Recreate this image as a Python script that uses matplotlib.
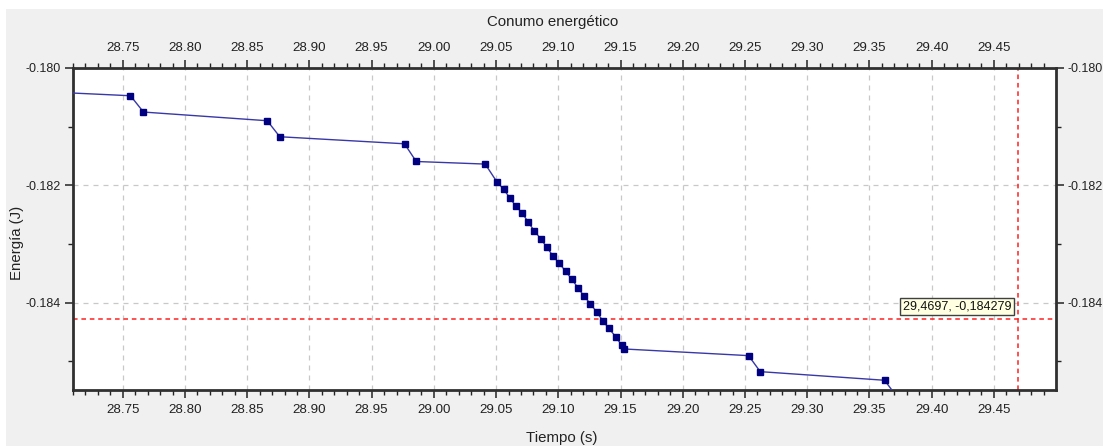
import matplotlib
matplotlib.use("Agg")
import matplotlib.pyplot as plt
from matplotlib.patches import Rectangle
from matplotlib.ticker import MultipleLocator, FormatStrFormatter

plt.rcParams['font.family'] = ['Liberation Sans', 'DejaVu Sans']

# Data (time in s, energy in J)
tiempo = [28.6565, 28.75619, 28.76664, 28.86605, 28.87618, 28.97639, 28.98580, 29.04125,
          29.05057, 29.05596, 29.06078, 29.06584, 29.07098, 29.07580, 29.08063, 29.08569,
          29.09075, 29.09558, 29.10072, 29.10578, 29.11060, 29.11566, 29.12049, 29.12563,
          29.13094, 29.13576, 29.14058, 29.14597, 29.15079, 29.15239,
          29.25285, 29.26225, 29.36215, 29.3716]
energia = [-0.180374, -0.180473, -0.180751, -0.180899, -0.181172, -0.181292, -0.181594, -0.181638,
           -0.181940, -0.182065, -0.182208, -0.182355, -0.182474, -0.182628, -0.182776, -0.182908,
           -0.183055, -0.183203, -0.183328, -0.183464, -0.183596, -0.183744, -0.183886, -0.184017,
           -0.184164, -0.184312, -0.184437, -0.184580, -0.184722, -0.184790,
           -0.184904, -0.185177, -0.185324, -0.185592]

cursor_x = 29.4697
cursor_y = -0.184279
cursor_label = "29,4697, -0,184279"

titulo = "Conumo energético"
xlabel = "Tiempo (s)"
ylabel = "Energía (J)"

W, H = 1106, 446
fig = plt.figure(figsize=(W / 100, H / 100), dpi=100)
fig.patch.set_facecolor('white')
fig.patches.append(Rectangle((6 / W, 0), (1103 - 6) / W, 1 - 9 / H, transform=fig.transFigure,
                             facecolor='#f0f0f0', edgecolor='none', zorder=-10))

ax = fig.add_axes([73 / W, 1 - 390 / H, (1056 - 73) / W, (390 - 68) / H])
ax.set_facecolor('white')

ax.plot(tiempo, energia, color='#3838a8', linewidth=1.0, marker='s', markersize=4.8,
        markerfacecolor='#000080', markeredgecolor='#000080', zorder=3)

ax.set_xlim(28.71, 29.4999)
ax.set_ylim(-0.18549, -0.180)

ax.xaxis.set_major_locator(MultipleLocator(0.05))
ax.xaxis.set_minor_locator(MultipleLocator(0.01))
ax.yaxis.set_major_locator(MultipleLocator(0.002))
ax.yaxis.set_minor_locator(MultipleLocator(0.001))
ax.xaxis.set_major_formatter(FormatStrFormatter('%.2f'))
ax.yaxis.set_major_formatter(FormatStrFormatter('%.3f'))

ax.tick_params(axis='both', which='both', direction='out', colors='#222222',
               top=True, bottom=True, left=True, right=True,
               labeltop=True, labelbottom=True, labelleft=True, labelright=True)
ax.tick_params(axis='x', labelsize=9.6)
ax.tick_params(axis='y', labelsize=9.0)
ax.tick_params(which='major', length=6, width=1.1)
ax.tick_params(axis='x', which='major', pad=4)
ax.tick_params(axis='y', which='major', pad=2.5)
ax.tick_params(which='minor', length=3.5, width=1.0)

ax.grid(True, which='major', color='#c8c8c8', linestyle=(0, (4, 4)), linewidth=0.9, zorder=0)

for s in ax.spines.values():
    s.set_color('#303030')
    s.set_linewidth(2.0)

# crosshair
ax.axhline(cursor_y, color='#ff2020', linestyle=(0, (3, 2.5)), linewidth=1.1, zorder=2)
ax.axvline(cursor_x, color='#ff2020', linestyle=(0, (3, 2.5)), linewidth=1.1, zorder=2)
ax.annotate(cursor_label, xy=(cursor_x, cursor_y), xytext=(-5, 5), textcoords='offset points',
            ha='right', va='bottom', fontsize=9, color='#111111', zorder=5,
            bbox=dict(boxstyle='square,pad=0.2', facecolor='#ffffe1', edgecolor='#404040', linewidth=1.0))

fig.text(553 / W, 1 - 22 / H, titulo, ha='center', va='center', fontsize=10.8, color='#222222')
fig.text(562 / W, 1 - 438 / H, xlabel, ha='center', va='center', fontsize=10.8, color='#222222')
fig.text(17 / W, 1 - 243 / H, ylabel, ha='center', va='center', rotation=90, fontsize=10.8, color='#222222')

fig.savefig('out.png', dpi=100, facecolor=fig.get_facecolor())
